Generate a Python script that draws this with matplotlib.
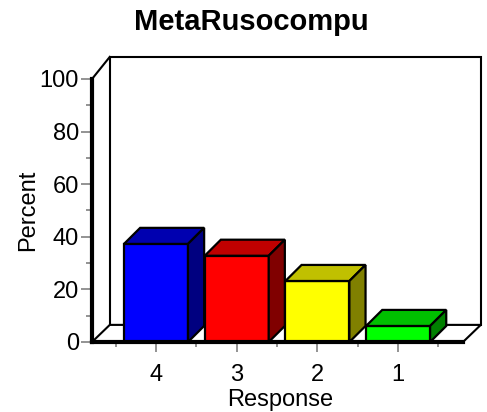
import matplotlib as mpl
mpl.use('Agg')
import matplotlib.pyplot as plt
from matplotlib.patches import Polygon

plt.rcParams['font.family'] = ['Liberation Sans', 'DejaVu Sans']

# data
categories = ["4", "3", "2", "1"]
percents = [37.3, 32.8, 23.2, 6.1]
front_colors = ["#0000ff", "#ff0000", "#ffff00", "#00ff00"]
top_colors = ["#0000b0", "#c00000", "#c0c000", "#00c000"]
side_colors = ["#000080", "#800000", "#808000", "#008000"]

title = "MetaRusocompu"
xlabel = "Response"
ylabel = "Percent"

W, H = 487, 412
fig = plt.figure(figsize=(W / 100.0, H / 100.0), dpi=100)
# front plotting area in pixels: x 92..463, y 79..342
ax = fig.add_axes([92.0 / W, (H - 342.0) / H, 371.0 / W, 263.0 / H])

x0, x1 = -0.793, 3.804
ymax = 100
ax.set_xlim(x0, x1)
ax.set_ylim(0, ymax)

# depth offsets (data units)
fdx, fdy = 0.22, 6.5      # floor / walls
bdx, bdy = 0.20, 6.1      # bars
wall_top = 108.4
bw = 0.793

# back wall
ax.add_patch(Polygon([(x0 + fdx, fdy), (x1 + fdx, fdy), (x1 + fdx, wall_top),
                      (x0 + fdx, wall_top)], closed=True, facecolor='white',
                     edgecolor='black', lw=1.5, clip_on=False, zorder=1))
# floor
ax.add_patch(Polygon([(x0, 0), (x1, 0), (x1 + fdx, fdy), (x0 + fdx, fdy)],
                     closed=True, facecolor='white', edgecolor='black',
                     lw=1.5, clip_on=False, zorder=2))
# diagonal at the top left
ax.plot([x0, x0 + fdx], [ymax, wall_top], color='black', lw=1.5,
        clip_on=False, zorder=2)

xs = list(range(len(categories)))
ax.bar(xs, percents, width=bw, color=front_colors, edgecolor='black',
       linewidth=1.6, zorder=3, clip_on=False)
for x, v, tc, sc in zip(xs, percents, top_colors, side_colors):
    l, r = x - bw / 2, x + bw / 2
    ax.add_patch(Polygon([(l, v), (r, v), (r + bdx, v + bdy), (l + bdx, v + bdy)],
                         closed=True, facecolor=tc, edgecolor='black', lw=1.6,
                         clip_on=False, zorder=3))
    ax.add_patch(Polygon([(r, 0), (r + bdx, bdy), (r + bdx, v + bdy), (r, v)],
                         closed=True, facecolor=sc, edgecolor='black', lw=1.6,
                         clip_on=False, zorder=3))

# thick front axis lines
ax.plot([x0, x0], [0, ymax], color='black', lw=3, clip_on=False, zorder=5,
        solid_capstyle='projecting')
ax.plot([x0, x1], [0, 0], color='black', lw=3, clip_on=False, zorder=5,
        solid_capstyle='projecting')

for s in ax.spines.values():
    s.set_visible(False)

ax.set_yticks(range(0, 101, 20))
ax.set_yticks(range(10, 100, 20), minor=True)
ax.set_xticks(xs)
ax.set_xticklabels(categories)
ax.set_xticks([-0.5, 0.5, 1.5, 2.5, 3.5], minor=True)
ax.tick_params(axis='y', which='major', length=8, width=1.2, color='gray',
               labelsize=17, pad=1.5)
ax.tick_params(axis='y', which='minor', length=4, width=1.2, color='gray')
ax.tick_params(axis='x', which='major', length=7, width=1.2, color='gray',
               labelsize=17, pad=9)
ax.tick_params(axis='x', which='minor', length=3.5, width=1.2, color='gray')

ax.set_xlabel(xlabel, fontsize=17, va='center')
ax.xaxis.set_label_coords((280 - 92) / 371.0, (342 - 400) / 263.0)
ax.set_ylabel(ylabel, fontsize=17, va='center')
ax.yaxis.set_label_coords((28 - 92) / 371.0, (342 - 210) / 263.0)
ax.text((251 - 92) / 371.0, (342 - 22) / 263.0, title, transform=ax.transAxes,
        ha='center', va='center', fontsize=21, fontweight='bold')

fig.savefig("out.png", dpi=100)
